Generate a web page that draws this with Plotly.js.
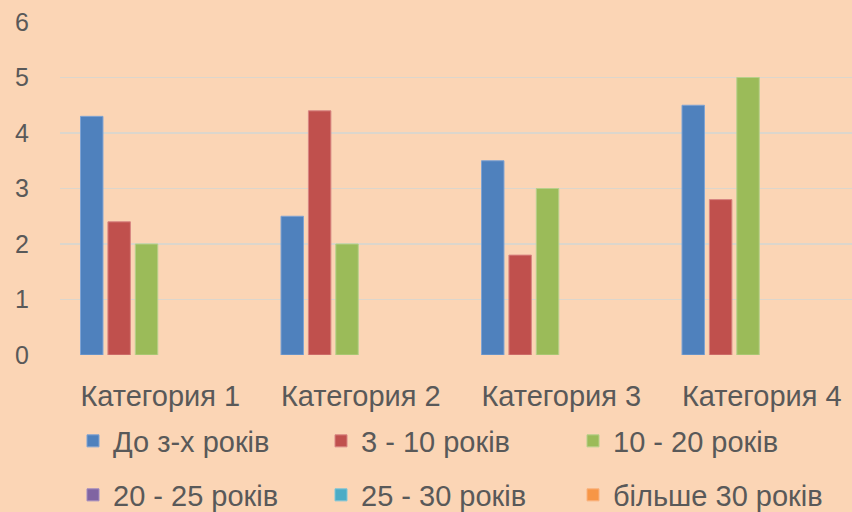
<!DOCTYPE html>
<html><head><meta charset="utf-8">
<script src="https://cdn.plot.ly/plotly-3.0.1.min.js"></script>
<style>html,body{margin:0;padding:0;background:#FBD5B5;overflow:hidden;width:852px;height:512px;}#c{width:862px;height:512px;}</style>
</head><body><div id="c"></div>
<script>
var categories = ["Категория 1", "Категория 2", "Категория 3", "Категория 4"];
var seriesNames = ["До з-х років", "3 - 10 років", "10 - 20 років", "20 - 25 років", "25 - 30 років", "більше 30 років"];
var s1 = [4.3, 2.5, 3.5, 4.5];
var s2 = [2.4, 4.4, 1.8, 2.8];
var s3 = [2.0, 2.0, 3.0, 5.0];
var s4 = [null, null, null, null];
var s5 = [null, null, null, null];
var s6 = [null, null, null, null];
var yTicks = [0, 1, 2, 3, 4, 5, 6];

var values = [s1, s2, s3, s4, s5, s6];
var colors = ["#4F81BD", "#C0504D", "#9BBB59", "#8064A2", "#4BACC6", "#F79646"];
var lineColors = ["#7FA3D3", "#D88582", "#B7D08B", "#A08BC0", "#7DC6D8", "#F9B27E"];
var font = "'Liberation Sans', Arial, sans-serif";
var legendNames = ["legend", "legend2", "legend3", "legend4", "legend5", "legend6"];
var W = 862, H = 512;

var traces = values.map(function(v, i){
  return {
    type: "bar", x: categories, y: v, name: seriesNames[i],
    marker: {color: colors[i], line: {color: lineColors[i], width: 1}},
    legend: legendNames[i],
    hoverinfo: "none"
  };
});

var layout = {
  width: W, height: H,
  paper_bgcolor: "#FBD5B5", plot_bgcolor: "#FBD5B5",
  margin: {l: 60, r: 0, t: 22, b: 157, autoexpand: false},
  barmode: "group", bargap: 0.18, bargroupgap: 0.18,
  showlegend: true,
  font: {family: font, color: "#595959"},
  xaxis: {
    type: "category", showgrid: false, zeroline: false, showline: false,
    ticks: "", tickfont: {family: font, size: 29, color: "#595959"},
    ticklabelstandoff: 21, automargin: false
  },
  yaxis: {
    range: [0, 6], tickvals: yTicks, showgrid: true, gridcolor: "#DCD6CC", gridwidth: 1.5,
    zeroline: false, showline: false, ticks: "",
    tickfont: {family: font, size: 25, color: "#595959"},
    ticklabelstandoff: 30, automargin: false
  }
};

var legX = [73, 321, 573];
var legY = [441, 495];
legendNames.forEach(function(n, i){
  layout[n] = {
    orientation: "h", xanchor: "left", yanchor: "middle",
    xref: "container", yref: "container",
    x: legX[i % 3] / W, y: 1 - legY[Math.floor(i / 3)] / H,
    font: {family: font, size: 29, color: "#595959"},
    bgcolor: "rgba(0,0,0,0)", itemwidth: 30, automargin: false
  };
});

Plotly.newPlot("c", traces, layout, {staticPlot: true});
</script>
</body></html>
